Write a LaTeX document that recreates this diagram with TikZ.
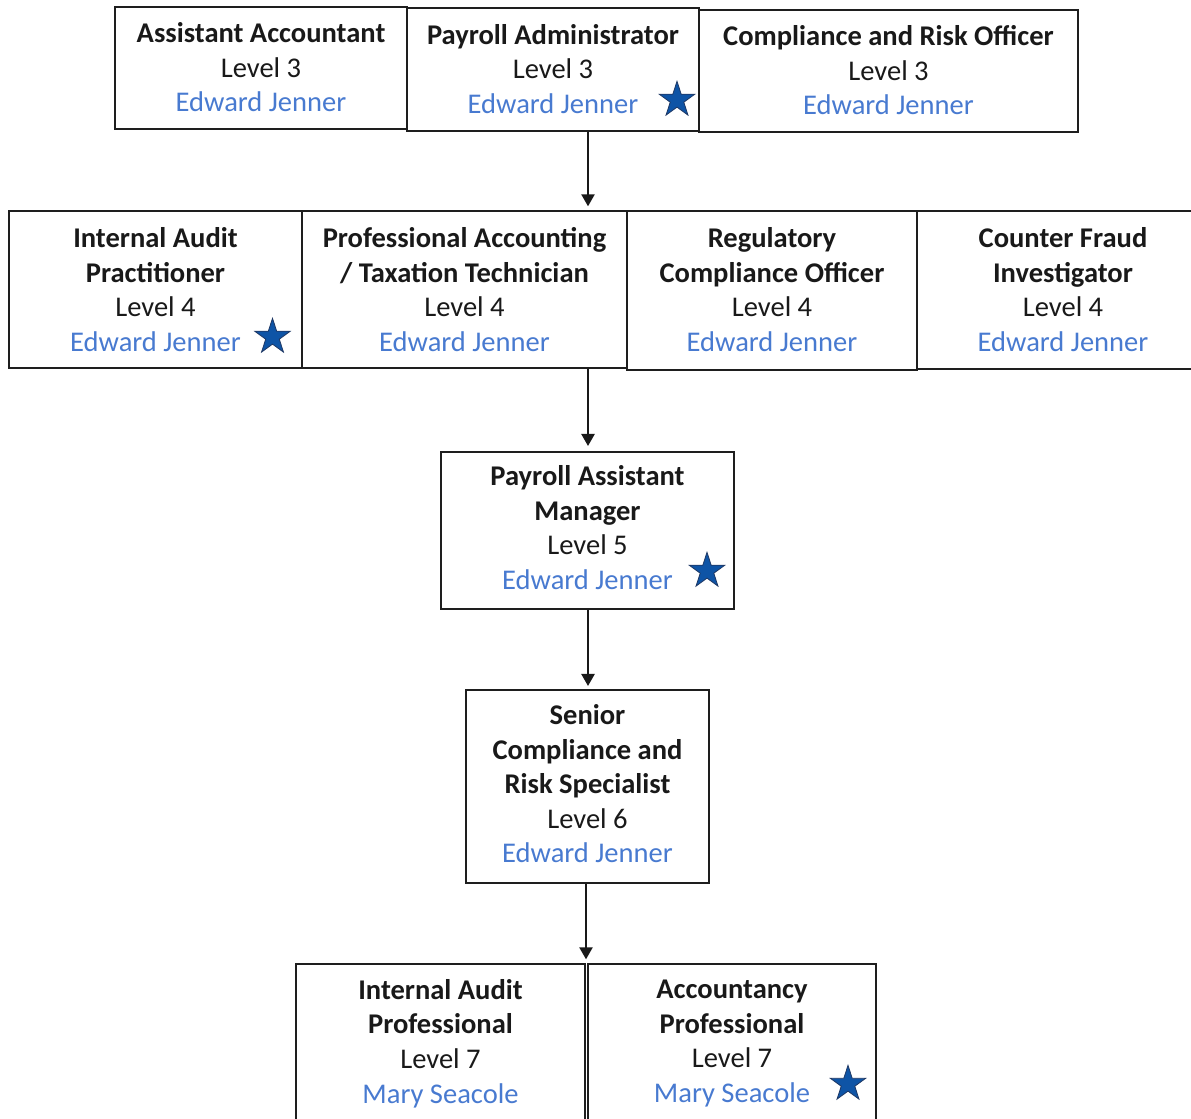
\documentclass[tikz,border=0pt]{standalone}
\usepackage{fontspec}
\setmainfont{Carlito}
\usetikzlibrary{shapes.geometric,arrows.meta,fit}
\definecolor{nameblue}{RGB}{72,122,208}
\definecolor{starfill}{RGB}{14,84,166}
\definecolor{starline}{RGB}{31,56,100}
\definecolor{boxline}{RGB}{30,30,30}
\newcommand{\rname}[1]{\textcolor{nameblue}{#1}}
\begin{document}
\begin{tikzpicture}[x=0.75pt,y=-0.75pt,
  box/.style={draw=boxline, line width=1.1pt, inner sep=0pt},
  txt/.style={inner sep=0pt, align=center,
    font=\fontsize{21.4}{25.9}\selectfont, text=black!90},
  starmark/.style={star, star points=5, star point ratio=2.618, minimum size=28pt,
    inner sep=0pt, fill=starfill, draw=starline, line width=0.6pt},
  arr/.style={-{Triangle[width=10pt,length=9pt]}, line width=1.1pt, draw=black!90}]
\useasboundingbox (0,0) rectangle (1191,1118);
\clip (0,0) rectangle (1191,1118);

% Row 1
\node[box, fit={(115,7) (407,129)}] (aa) {};
\node[box, fit={(407,8) (699,131)}] (pa) {};
\node[box, fit={(699,10) (1078,132)}] (cro) {};
\node[txt] (aat) at ([yshift=0.6pt]aa.center) {\textbf{Assistant Accountant}\\Level 3\\\rname{Edward Jenner}};
\node[txt] (pat1) at ([yshift=0.6pt]pa.center) {\textbf{Payroll Administrator}\\Level 3\\\rname{Edward Jenner}};
\node[txt] (crot) at ([yshift=0.6pt]cro.center) {\textbf{Compliance and Risk Officer}\\Level 3\\\rname{Edward Jenner}};

% Row 2
\node[box, fit={(9,211) (302,368)}] (iapr) {};
\node[box, fit={(302,211) (627,368)}] (pat) {};
\node[box, fit={(627,211) (917,370)}] (rco) {};
\node[box, fit={(917,211) (1209,369)}] (cfi) {};
\node[txt] (iaprt) at ([yshift=0pt]iapr.center) {\textbf{Internal Audit}\\\textbf{Practitioner}\\Level 4\\\rname{Edward Jenner}};
\node[txt] (patt) at ([yshift=0pt]pat.center) {\textbf{Professional Accounting}\\\textbf{/ Taxation Technician}\\Level 4\\\rname{Edward Jenner}};
\node[txt] (rcot) at ([yshift=0.75pt]rco.center) {\textbf{Regulatory}\\\textbf{Compliance Officer}\\Level 4\\\rname{Edward Jenner}};
\node[txt] (cfit) at ([yshift=0.25pt]cfi.center) {\textbf{Counter Fraud}\\\textbf{Investigator}\\Level 4\\\rname{Edward Jenner}};

% Row 3
\node[box, fit={(441,452) (734,609)}] (pam) {};
\node[txt] (pamt) at ([yshift=2.25pt]pam.center) {\textbf{Payroll Assistant}\\\textbf{Manager}\\Level 5\\\rname{Edward Jenner}};

% Row 4
\node[box, fit={(466,690) (709,883)}] (scrs) {};
\node[txt] (scrst) at ([yshift=1.9pt]scrs.center) {\textbf{Senior}\\\textbf{Compliance and}\\\textbf{Risk Specialist}\\Level 6\\\rname{Edward Jenner}};

% Row 5
\node[box, fit={(296,964) (585,1121)}] (iap) {};
\node[box, fit={(588,964) (876,1121)}] (ap) {};
\node[txt] (iapt) at ([yshift=-0.75pt]iap.center) {\textbf{Internal Audit}\\\textbf{Professional}\\Level 7\\\rname{Mary Seacole}};
\node[txt] (apt) at ([yshift=-0.75pt]ap.center) {\textbf{Accountancy}\\\textbf{Professional}\\Level 7\\\rname{Mary Seacole}};

% Stars
\node[starmark] (st1) at (677,100) {};
\node[starmark] (st2) at (272.5,337) {};
\node[starmark] (st3) at (707,571) {};
\node[starmark] (st4) at (848,1084) {};

% Connectors
\coordinate (ax1) at (588,0);
\coordinate (ax2) at (586,0);
\draw[arr] (pa.south -| ax1) -- ([yshift=3pt]pat.north -| ax1);
\draw[arr] (pat.south -| ax1) -- ([yshift=4pt]pam.north -| ax1);
\draw[arr] (pam.south -| ax1) -- ([yshift=2.5pt]scrs.north -| ax1);
\draw[arr] (scrs.south -| ax2) -- ([yshift=3pt]iap.north -| ax2);
\end{tikzpicture}
\end{document}
